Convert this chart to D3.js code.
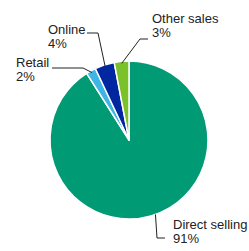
<!DOCTYPE html>
<html><head><meta charset="utf-8">
<script src="https://cdn.jsdelivr.net/npm/d3@7"></script>
<style>body{margin:0;background:#fff}svg{display:block}</style>
</head><body>
<script>
const categories = ["Direct selling", "Retail", "Online", "Other sales"];
const values = [91, 2, 4, 3];
const valueLabels = ["91%", "2%", "4%", "3%"];
const colors = ["#009a74", "#3fb5e6", "#0026a0", "#7ac12a"];

const W = 249, H = 251, cx = 129, cy = 140, R = 79;
// label layout: [elbow x, elbow y, line end x, text x, text baseline y]
const layout = [
  {ex:157, ey:238, lx:165, tx:173, ty:229},
  {ex:83, ey:68, lx:52, tx:16, ty:67},
  {ex:98, ey:33, lx:87, tx:48, ty:34},
  {ex:140, ey:39, lx:148, tx:152, ty:23}
];

const svg = d3.select("body").append("svg").attr("width", W).attr("height", H);
const g = svg.append("g").attr("transform", `translate(${cx},${cy})`);
const pie = d3.pie().sort(null).value(d => d)(values);
const arc = d3.arc().innerRadius(0).outerRadius(R);
g.selectAll("path").data(pie).join("path")
  .attr("d", arc).attr("fill", (d,i) => colors[i])
  .attr("stroke", "#fff").attr("stroke-width", 1.5).attr("stroke-linejoin", "round");

pie.forEach((d, i) => {
  const a = (d.startAngle + d.endAngle) / 2;
  const L = layout[i];
  let sx = cx + Math.sin(a) * (R - 2), sy = cy - Math.cos(a) * (R - 2);
  if (i === 0) { sx = cx + Math.sin(2.8) * R; sy = cy - Math.cos(2.8) * R; }
  svg.append("polyline")
    .attr("points", `${sx},${sy} ${L.ex},${L.ey} ${L.lx},${L.ey}`)
    .attr("fill", "none").attr("stroke", "#222").attr("stroke-width", 1);
  const t = svg.append("text").attr("x", L.tx).attr("y", L.ty)
    .attr("font-family", "Liberation Sans, Arial, sans-serif").attr("font-size", 13).attr("fill", "#222");
  t.append("tspan").attr("x", L.tx).text(categories[i]);
  t.append("tspan").attr("x", L.tx).attr("dy", 14).text(valueLabels[i]);
});
</script>
</body></html>
